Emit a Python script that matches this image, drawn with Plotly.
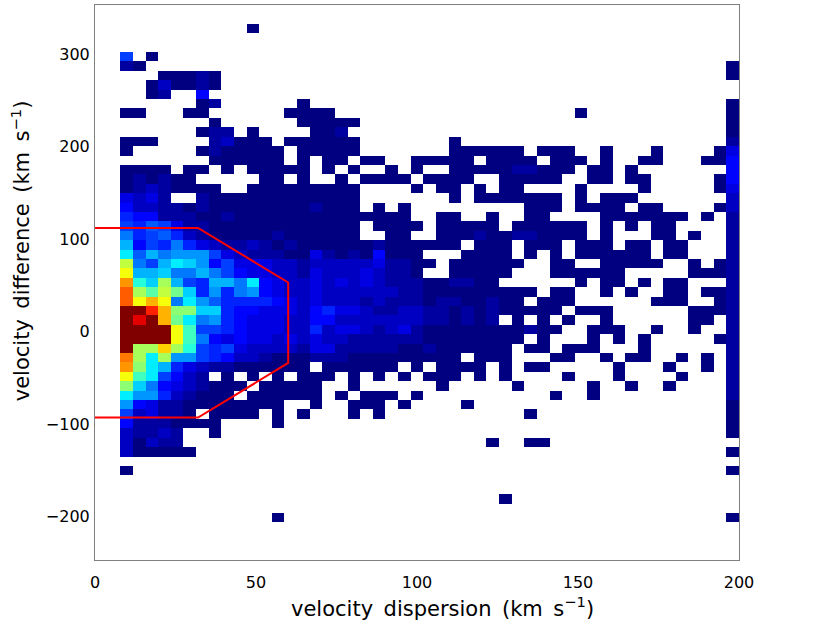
import plotly.graph_objects as go

# one string per row, top row first, one character per bin (51 bins in x, spaces are only for reading)
# '.' is an empty bin, otherwise the level in base 36 (0 navy ... z dark red)
E = "." * 51
cell_rows = [
    E,  # row 58
    E,
    ".......... ..0....... .......... .......... ...........",  # row 56
    E,
    E,
    "..6.0..... .......... .......... .......... ...........",  # row 53
    "..10...... .......... .......... .......... ..........0",
    ".....00010 .......... .......... .......... ..........0",
    "....020010 .......... .......... .......... ...........",
    "....01..4. .......... .......... .......... ...........",
    "........01 ......0... .......... .......... ..........0",  # row 48
    "..00...00. .....0000. .......... ........0. ..........0",
    ".........0 ......0000 0......... .......... ..........0",
    "........01 1.0....001 .......... .......... ..........0",
    "..000....1 2000.00000 0.......0. .......... ..........1",
    "..0.....01 00000.0000 0.......00 0000.000.. 0...0....03",  # row 43
    ".........0 00000.0.00 .00..00000 .0000.000. 0..00...004",
    "..0000.00. 0.00000.0. 0..0.0..00 00011000.0 0.0.......4",
    "..010100.. ...00.0..0 .0000.0000 ..00000..0 0.00.....04",
    "..01210000 ..00000000 0....0.00. 0.00....0. ...0.....03",
    "..3231..10 0000000000 0.......0. 0000000.0. 000.......2",  # row 38
    "..42211010 0000000100 0.0.0..... ....000.00 00.00....02",
    "..54411100 1000000000 00000..00. .0..00.... 0000000.0.1",
    "..65763110 0000000000 0.0000.000 00.000000. 0.0.00....1",
    "..85675210 0000100000 0..00..000 100110000. 0...00.0..1",
    "..a4658532 1121010000 001000000. 000.000.00 0.00.00...1",  # row 33
    "..c7a89996 3211100310 104000...0 000.0.0.00 0000.00...1",
    "..k86acb94 6333221222 2231100.00 0000..00.. 00000..0.01",
    "..maab88a8 6433221322 232110..00 000...0000 00.....0001",
    "..qebja65a a8c4322323 2321110011 00......0. 00.0.00...1",
    "..sjgkhb59 5894322322 2222110000 00000.00.. 0.0..00.001",  # row 28
    "..smpm8c97 5555432322 2121110110 0100.000.. ....000..01",
    "..zzupiibb 5443332453 3211221101 0100000.00 0......0001",
    "..zwzphc89 5433322442 2222221101 01.0.0.0.. 0......00.1",
    "..zzzzmf66 5433322523 3212310000 0000100..0 00..0..0..1",
    "..zzzzmf84 3433232322 1111110000 0000.0...0 .0.0.....01",  # row 23
    "..zjjoje65 6322221331 1111001000 000.00.000 ...0......1",
    "..rjcj9965 4221000111 000000000. 000...00.. 0.00..0.0.1",
    "..qica5321 1000000.00 0000.0.000 0.0.00.... .0...0..0.1",
    "..mfc6421. 0.0.0.000. 0.0.0.000. 0.0....0.. .0....0...1",
    "..ib843210 00.00000.. 0......0.. ...0.....0 ..0..0....1",  # row 18
    "..c9952100 0.000000.0 .000.0.... ......0..0 ..........1",
    "..94311000 00000..0.. 000.0....0 .......... ..........0",
    "..623110.0 000.0.0... 0.0....... ....0..... ..........0",
    "..41110000 ....0..... .......... .......... ..........0",
    "..21121..0 .......... .......... .......... ..........0",  # row 13
    "..20211... .......... .......... .0..00.... ...........",
    "..200000.. .......... .......... .......... ..........0",
    E,
    "..0....... .......... .......... .......... ..........0",
    E,  # row 8
    E,
    ".......... .......... .......... ..0....... ...........",
    E,
    ".......... ....0..... .......... .......... ..........0",
    E,  # row 3
    E,
    E,
    E,
]

x_ticks = [0, 50, 100, 150, 200]
y_ticks = [-200, -100, 0, 100, 200, 300]

# red selection region
region_x = [0, 32, 60, 60, 32, 0]
region_y = [109, 109, 50, -37, -96, -96]

jet = [
    [0.0, "rgb(0,0,128)"],
    [0.11, "rgb(0,0,255)"],
    [0.36, "rgb(0,255,255)"],
    [0.5, "rgb(128,255,128)"],
    [0.64, "rgb(255,255,0)"],
    [0.89, "rgb(255,0,0)"],
    [1.0, "rgb(128,0,0)"],
]

# rows go bottom up in the heatmap
z = []
for row in reversed(cell_rows):
    row = row.replace(" ", "")
    assert len(row) == 51, row
    z.append([None if ch == "." else int(ch, 36) for ch in row])

fig = go.Figure()
fig.add_trace(go.Heatmap(z=z, x0=200 / 51 / 2, dx=200 / 51, y0=-250 + 600 / 59 / 2, dy=600 / 59,
                         colorscale=jet, zmin=0, zmax=35, showscale=False, hoverongaps=False))
fig.add_trace(go.Scatter(x=region_x, y=region_y, mode="lines", showlegend=False,
                         line=dict(color="#ff0000", width=2)))

label_font = dict(family="DejaVu Sans", size=16, color="black")
fig.update_xaxes(range=[0, 200], tickvals=x_ticks, showgrid=False, zeroline=False,
                 showline=True, mirror=True, linecolor="#808080", linewidth=1,
                 ticks="outside", ticklen=8, tickcolor="rgba(0,0,0,0)", tickfont=label_font)
fig.update_yaxes(range=[-250, 350], tickvals=y_ticks, showgrid=False, zeroline=False,
                 showline=True, mirror=True, linecolor="#808080", linewidth=1,
                 ticks="outside", ticklen=1, tickcolor="rgba(0,0,0,0)", tickfont=label_font,
                 ticklabelshift=3)
fig.add_annotation(text="velocity\u2002dispersion\u2002(km\u2002s<sup>−1</sup>)", xref="paper", yref="paper",
                   x=0.54, y=-0.085, showarrow=False, yanchor="middle",
                   font=dict(family="DejaVu Sans", size=21, color="black"))
fig.add_annotation(text="velocity\u2002difference\u2002(km\u2002s<sup>−1</sup>)", xref="paper", yref="paper",
                   x=-0.115, y=0.558, showarrow=False, textangle=-90, xanchor="center",
                   font=dict(family="DejaVu Sans", size=21, color="black"))
fig.update_layout(width=830, height=623, margin=dict(l=95, r=91, t=5, b=63),
                  plot_bgcolor="white", paper_bgcolor="white", showlegend=False)
fig.write_html("out.html", config=dict(displayModeBar=False),
               post_script="document.body.style.margin='0';")
